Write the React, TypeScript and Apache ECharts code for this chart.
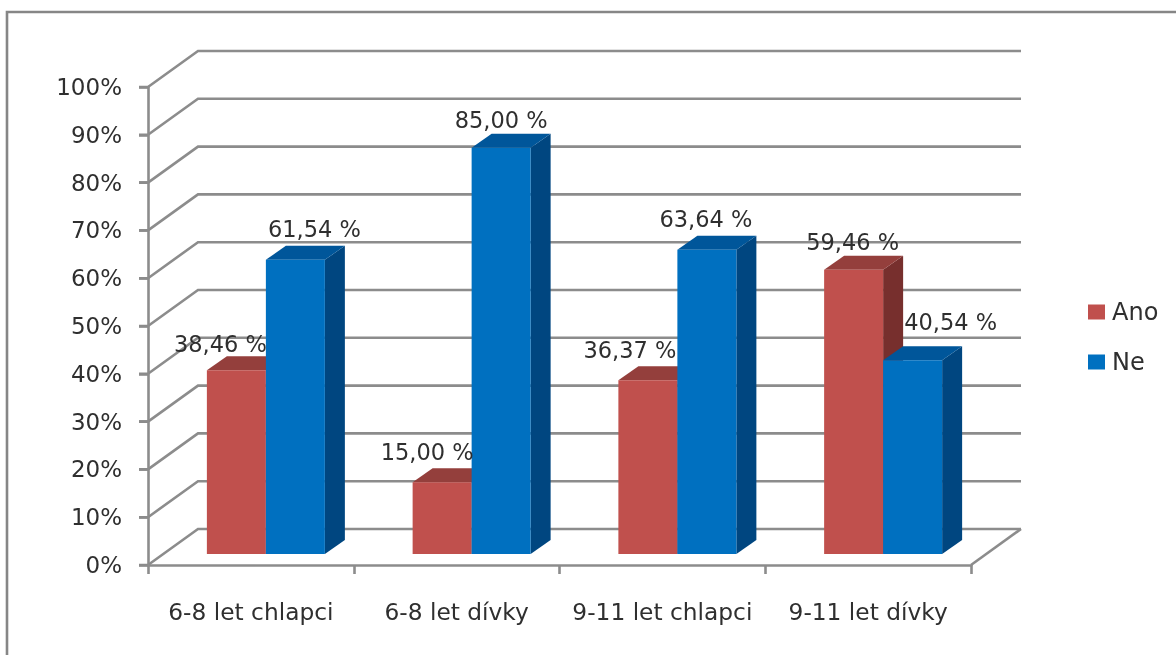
import React, { useEffect, useRef } from "react";
import * as echarts from "echarts";

const categories = ["6-8 let chlapci", "6-8 let dívky", "9-11 let chlapci", "9-11 let dívky"];
const seriesNames = ["Ano", "Ne"];
const anoValues = [38.46, 15.0, 36.37, 59.46];
const neValues = [61.54, 85.0, 63.64, 40.54];
const gridTicks = [0, 10, 20, 30, 40, 50, 60, 70, 80, 90, 100];

// label nudges, px: the source chart hand-placed some labels
const anoLabelNudgeX = [-16, -15, -18, -1];
const neLabelNudgeX = [19, 0, -1, 38];
const anoLabelLift = [26, 30, 30, 28];
const neLabelLift = [31, 28, 31, 38];

const FONT = "'DejaVu Sans', sans-serif";
const GRID_COLOR = "#8c8c8c";
const GRID_WIDTH = 2.6;
const TEXT_COLOR = "#2f2f2f";
const DEPTH_X = 50;
const DEPTH_Y = 36;
const BAR_SHIFT_X = 15;
const BAR_SHIFT_Y = 11;
const BAR_W = 59;
const BAR_DX = 20;
const BAR_DY = 14;
const TICK_LEN = 9;

const palette = [
  { front: "#C0504D", top: "#943F3C", side: "#772F2D" },
  { front: "#0070C0", top: "#00569A", side: "#004680" },
];

function barSeries(index: number, values: number[]) {
  const c = palette[index];
  return {
    name: seriesNames[index],
    type: "custom",
    z: 3,
    clip: false,
    itemStyle: { color: c.front },
    encode: { x: 0, y: 1 },
    data: values.map((v, i) => [i, v]),
    renderItem: (_p: any, api: any) => {
      const cat = api.value(0);
      const top = api.coord([cat, api.value(1)]);
      const base = api.coord([cat, 0]);
      const x0 = top[0] + BAR_SHIFT_X + (index === 0 ? -BAR_W : 0);
      const x1 = x0 + BAR_W;
      const yT = top[1] - BAR_SHIFT_Y;
      const yB = base[1] - BAR_SHIFT_Y;
      return {
        type: "group",
        children: [
          {
            type: "polygon",
            shape: { points: [[x1, yT], [x1 + BAR_DX, yT - BAR_DY], [x1 + BAR_DX, yB - BAR_DY], [x1, yB]] },
            style: { fill: c.side },
          },
          {
            type: "polygon",
            shape: { points: [[x0, yT], [x0 + BAR_DX, yT - BAR_DY], [x1 + BAR_DX, yT - BAR_DY], [x1, yT]] },
            style: { fill: c.top },
          },
          { type: "rect", shape: { x: x0, y: yT, width: BAR_W, height: yB - yT }, style: { fill: c.front } },
        ],
      };
    },
  };
}

function labelSeries(index: number, values: number[], nudgeX: number[], lift: number[]) {
  return {
    name: seriesNames[index] + " popisky",
    type: "custom",
    z: 5,
    clip: false,
    silent: true,
    encode: { x: 0, y: 1 },
    data: values.map((v, i) => [i, v]),
    renderItem: (_p: any, api: any) => {
      const cat = api.value(0);
      const v = api.value(1);
      const top = api.coord([cat, v]);
      const cx = top[0] + BAR_SHIFT_X + (index === 0 ? -BAR_W / 2 : BAR_W / 2) + nudgeX[cat];
      return {
        type: "text",
        x: cx,
        y: top[1] - BAR_SHIFT_Y - lift[cat],
        style: {
          text: v.toFixed(2).replace(".", ",") + " %",
          fill: TEXT_COLOR,
          font: `22.5px ${FONT}`,
          align: "center",
          verticalAlign: "middle",
        },
      };
    },
  };
}

export default function App() {
  const ref = useRef<HTMLDivElement>(null);
  useEffect(() => {
    const chart = echarts.init(ref.current!, null, { renderer: "svg" });
    chart.setOption({
      animation: false,
      backgroundColor: "#ffffff",
      textStyle: { fontFamily: FONT },
      grid: { left: 148, right: 205, top: 87, bottom: 90 },
      legend: {
        data: seriesNames,
        orient: "vertical",
        left: 1083,
        top: 295,
        itemWidth: 17,
        itemHeight: 15,
        itemGap: 26,
        icon: "rect",
        textStyle: { fontSize: 24, color: TEXT_COLOR, fontFamily: FONT, padding: [0, 0, 0, 2] },
      },
      xAxis: {
        type: "category",
        data: categories,
        z: 2,
        axisLine: { lineStyle: { color: GRID_COLOR, width: GRID_WIDTH } },
        axisTick: { show: true, interval: 0, length: TICK_LEN, lineStyle: { color: GRID_COLOR, width: GRID_WIDTH } },
        axisLabel: { fontSize: 23.3, color: TEXT_COLOR, margin: 35, interval: 0, fontFamily: FONT },
      },
      yAxis: {
        type: "value",
        min: 0,
        max: 100,
        interval: 10,
        z: 2,
        axisLine: { show: true, lineStyle: { color: GRID_COLOR, width: GRID_WIDTH } },
        axisTick: { show: true, length: TICK_LEN, lineStyle: { color: GRID_COLOR, width: GRID_WIDTH } },
        splitLine: { show: false },
        axisLabel: {
          fontSize: 23,
          color: TEXT_COLOR,
          margin: 26,
          padding: [6, 0, 0, 0],
          formatter: "{value}%",
          fontFamily: FONT,
        },
      },
      graphic: [
        {
          type: "polyline",
          shape: { points: [[7, 655], [7, 12], [1176, 12]] },
          style: { stroke: "#868686", lineWidth: 2.6, fill: "none" },
        },
      ],
      series: [
        {
          name: "mřížka",
          type: "custom",
          z: 1,
          clip: false,
          silent: true,
          encode: { x: 0, y: 1 },
          data: gridTicks.map((t) => [0, t]),
          renderItem: (_p: any, api: any) => {
            const v = api.value(1);
            const p = api.coord([0, v]);
            const w = api.size([1, 0])[0];
            const left = p[0] - w / 2;
            const right = left + w * categories.length;
            const y = p[1];
            const children: any[] = [
              {
                type: "polyline",
                shape: {
                  points: [[left - TICK_LEN, y], [left, y], [left + DEPTH_X, y - DEPTH_Y], [right + DEPTH_X, y - DEPTH_Y]],
                },
                style: { stroke: GRID_COLOR, lineWidth: GRID_WIDTH, fill: "none" },
              },
            ];
            if (v === 0) {
              children.push({
                type: "line",
                shape: { x1: right, y1: y, x2: right + DEPTH_X, y2: y - DEPTH_Y },
                style: { stroke: GRID_COLOR, lineWidth: GRID_WIDTH },
              });
            }
            return { type: "group", children };
          },
        },
        barSeries(0, anoValues),
        barSeries(1, neValues),
        labelSeries(0, anoValues, anoLabelNudgeX, anoLabelLift),
        labelSeries(1, neValues, neLabelNudgeX, neLabelLift),
      ],
    });
    return () => chart.dispose();
  }, []);
  return (
    <div
      ref={ref}
      style={{ position: "absolute", left: 0, top: 0, width: 1176, height: 655, filter: "blur(0.5px)" }}
    />
  );
}
